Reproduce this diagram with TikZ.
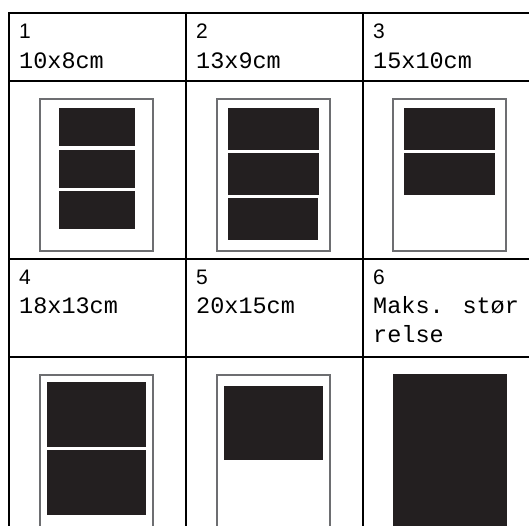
\documentclass[tikz,border=0pt]{standalone}
\usepackage{fontspec}
\setmainfont{Liberation Sans}
\newfontfamily\cellmono{Liberation Mono}
\definecolor{photoblack}{HTML}{231F20}
\definecolor{papergray}{HTML}{6D6E71}

\begin{document}
\begin{tikzpicture}[x=1pt, y=-1pt,
    grid/.style={draw=black, line width=2pt},
    paper/.style={draw=papergray, line width=1.3pt, fill=white},
    photo/.style={fill=photoblack},
    numlabel/.style={anchor=base west, inner sep=0pt, font=\fontsize{21pt}{24pt}\selectfont},
    sizelabel/.style={anchor=base west, inner sep=0pt, font=\cellmono\fontsize{23.5pt}{28pt}\selectfont}
  ]
    \useasboundingbox (0,0) rectangle (529,525);
    \clip (0,0) rectangle (529,525);

    % table rules
    \draw[grid] (540,13) -- (9,13) -- (9,540);
    \draw[grid] (9,81)  -- (540,81);
    \draw[grid] (9,259) -- (540,259);
    \draw[grid] (9,357) -- (540,357);
    \draw[grid] (186,13) -- (186,540);
    \draw[grid] (363,13) -- (363,540);

    % header texts
    \node[numlabel]  (n1) at (19,38)  {1};
    \node[sizelabel] (s1) at (19,68.5)  {10x8cm};
    \node[numlabel]  (n2) at (196,38) {2};
    \node[sizelabel] (s2) at (196,68.5) {13x9cm};
    \node[numlabel]  (n3) at (373,38) {3};
    \node[sizelabel] (s3) at (373,68.5) {15x10cm};

    \node[numlabel]  (n4) at (19,284)  {4};
    \node[sizelabel] (s4) at (19,313.5)  {18x13cm};
    \node[numlabel]  (n5) at (196,284) {5};
    \node[sizelabel] (s5) at (196,313.5) {20x15cm};
    \node[numlabel]  (n6) at (373,284) {6};
    \node[sizelabel] (s6a) at (373,313.5) {Maks. stør};
    \node[sizelabel] (s6b) at (373,342.5) {relse};

    % 10x8cm
    \draw[paper] (40,99) rectangle (153,251);
    \fill[photo] (59,108) rectangle (135,146);
    \fill[photo] (59,149.5) rectangle (135,187.5);
    \fill[photo] (59,191) rectangle (135,229);

    % 13x9cm
    \draw[paper] (217,99) rectangle (330,251);
    \fill[photo] (228,108) rectangle (319,150);
    \fill[photo] (228,153) rectangle (319,195);
    \fill[photo] (228,198) rectangle (318,240);

    % 15x10cm
    \draw[paper] (393,99) rectangle (506,251);
    \fill[photo] (404,108) rectangle (495,150);
    \fill[photo] (404,153) rectangle (495,195);

    % 18x13cm
    \draw[paper] (40,375) rectangle (153,540);
    \fill[photo] (47,382) rectangle (146,447);
    \fill[photo] (47,450) rectangle (146,515);

    % 20x15cm
    \draw[paper] (217,375) rectangle (330,540);
    \fill[photo] (224,386) rectangle (323,460);

    % max size
    \fill[photo] (393,374) rectangle (507,540);
  \end{tikzpicture}
\end{document}
